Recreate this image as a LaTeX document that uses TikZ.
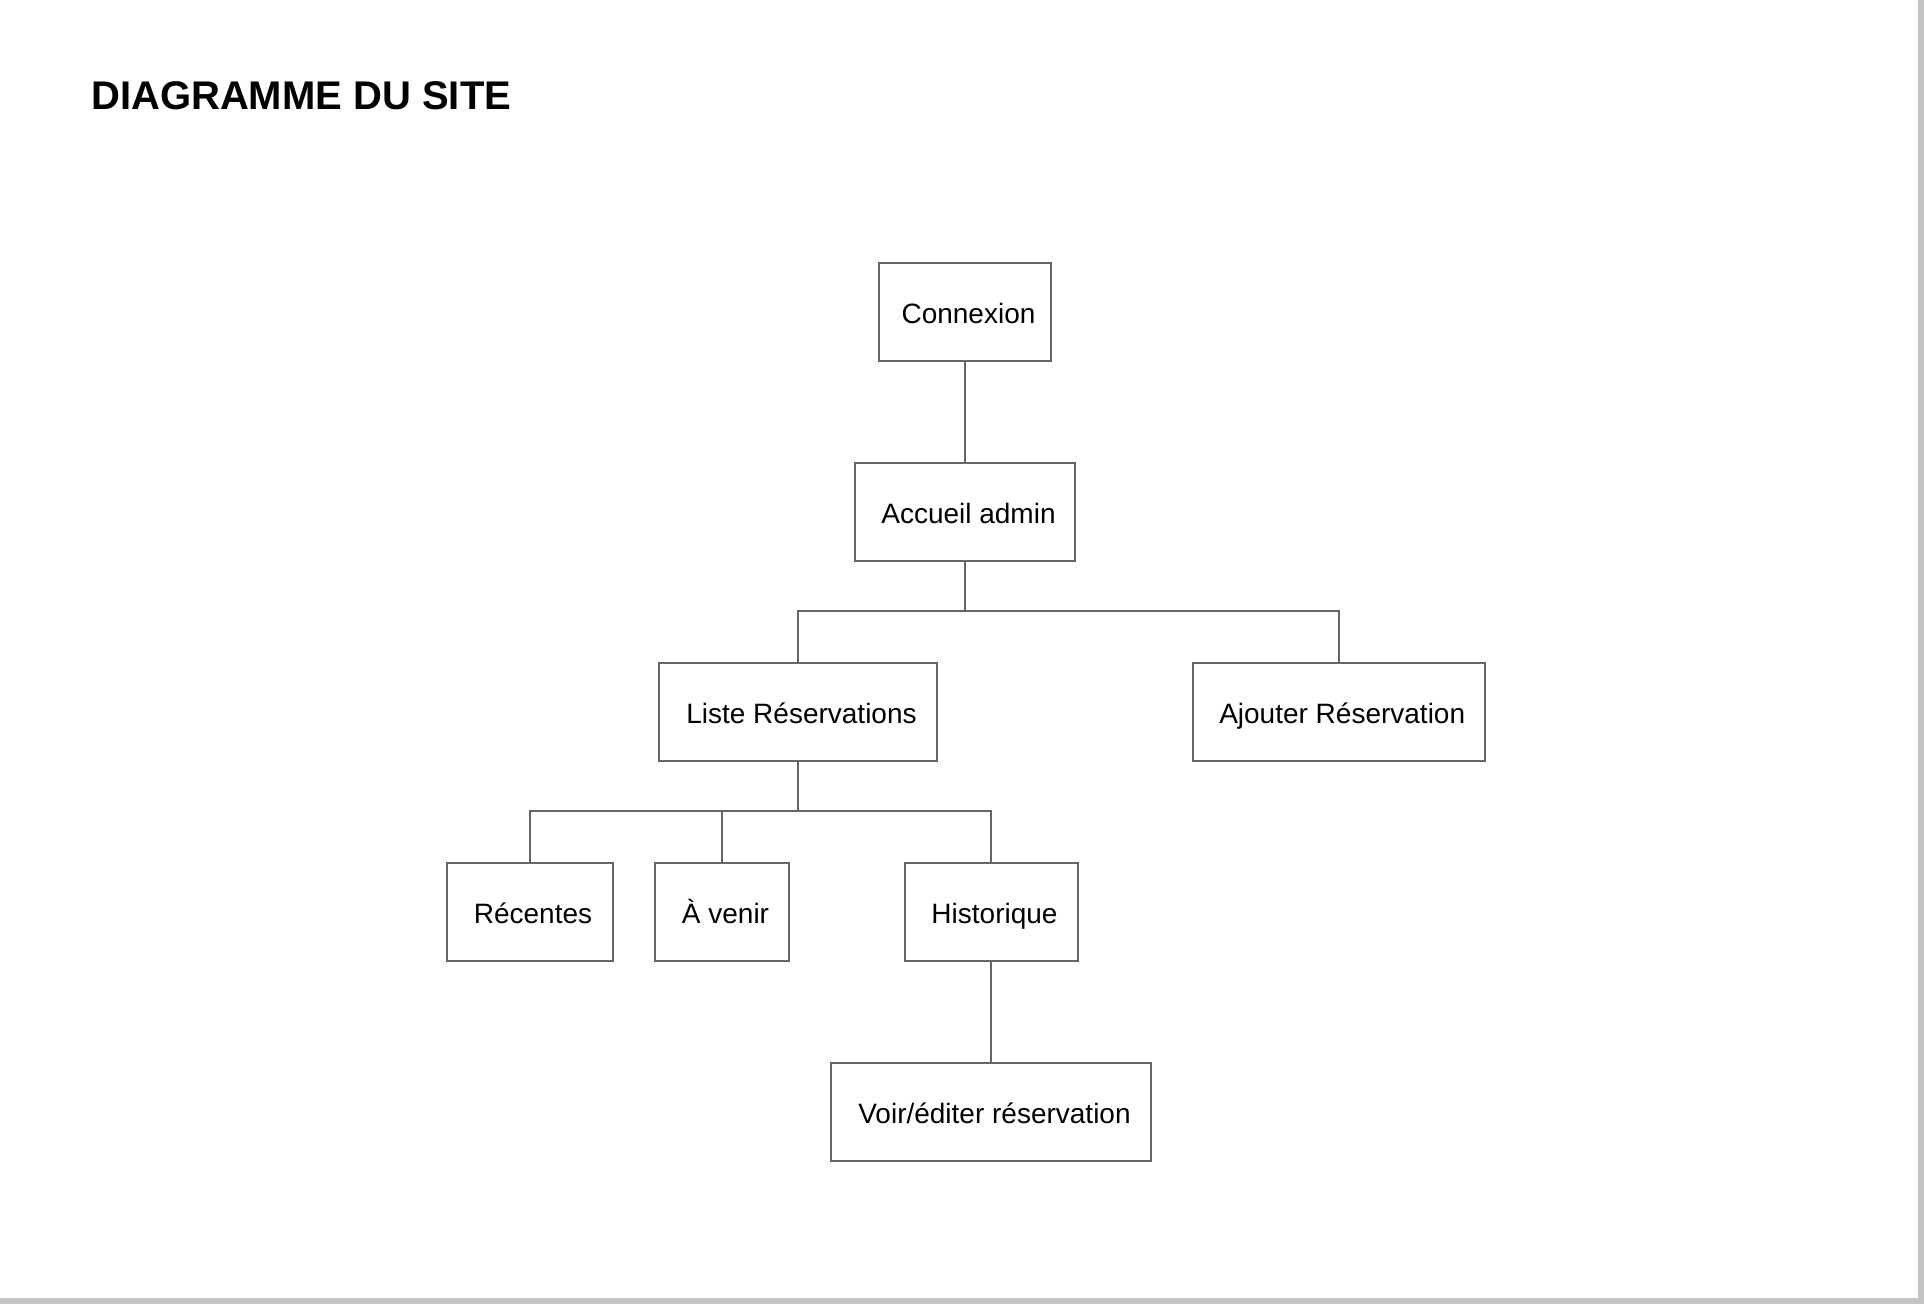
\documentclass[tikz,border=0pt]{standalone}
\usepackage{fontspec}
\setmainfont{Liberation Sans}
\definecolor{linegray}{HTML}{666666}
\definecolor{framegray}{HTML}{C4C4C4}
\begin{document}
\begin{tikzpicture}[x=1pt,y=-1pt,
  page/.style={draw=linegray,line width=2pt,rectangle,inner sep=0pt,minimum height=98pt,
    text height=23pt,text depth=0pt,
    execute at begin node={\hspace*{7pt}},
    font=\fontsize{28}{34}\selectfont},
  link/.style={draw=linegray,line width=2pt}]
\useasboundingbox (0,0) rectangle (1924,1304);
\fill[white] (0,0) rectangle (1924,1304);
\fill[framegray] (0,1298) rectangle (1924,1304);
\fill[framegray] (1918,0) rectangle (1924,1304);
\node[anchor=base west,inner sep=0pt,font=\bfseries\fontsize{40}{48}\selectfont] (title) at (91,109) {DIAGRAMME DU SITE};
\node[page,minimum width=172pt] (conn) at (965,311.7) {Connexion};
\node[page,minimum width=220pt] (acc) at (965,511.7) {Accueil admin};
\node[page,minimum width=278pt] (liste) at (798,711.7) {Liste Réservations};
\node[page,minimum width=292pt] (ajout) at (1338.7,711.7) {Ajouter Réservation};
\node[page,minimum width=166pt] (rec) at (529.5,911.7) {Récentes};
\node[page,minimum width=134pt] (ven) at (722,911.7) {À venir};
\node[page,minimum width=173pt] (hist) at (991,911.7) {Historique};
\node[page,minimum width=320pt] (voir) at (991,1111.7) {Voir/éditer réservation};
\coordinate (bus1) at (0,610.5);
\coordinate (bus2) at (0,810.5);
\draw[link] (conn.south) -- (acc.north);
\draw[link] (acc.south) -- (acc.south |- bus1) -| (liste.north);
\draw[link] (acc.south |- bus1) -| (ajout.north);
\draw[link] (liste.south) -- (liste.south |- bus2) -| (rec.north);
\draw[link] (liste.south |- bus2) -| (hist.north);
\draw[link] (ven.north) -- (ven.north |- bus2);
\draw[link] (hist.south) -- (voir.north);
\end{tikzpicture}
\end{document}
